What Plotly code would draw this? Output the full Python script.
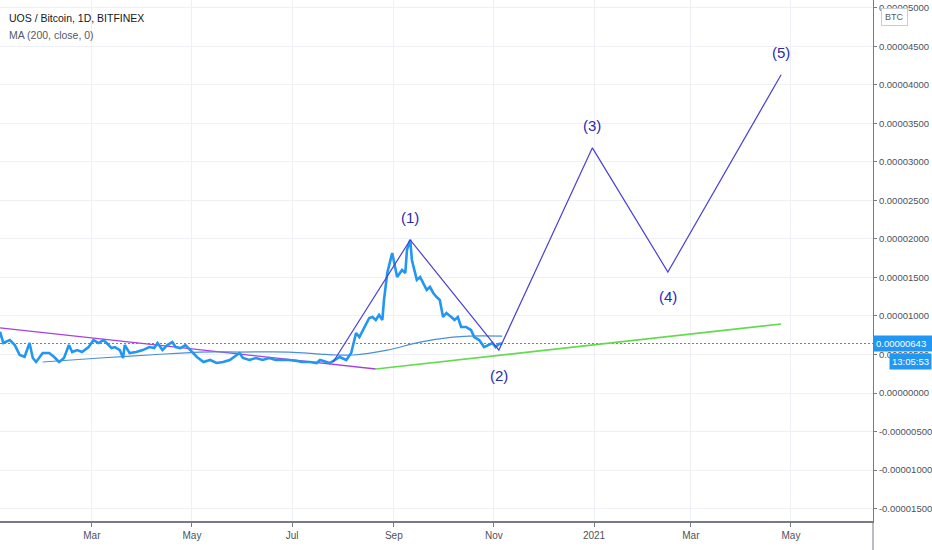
import plotly.graph_objects as go

# ---------------- data (prices in satoshi = 1e-8 BTC) ----------------
PRICE_DATES = [
    "2020-01-05", "2020-01-07", "2020-01-11", "2020-01-14", "2020-01-17", "2020-01-20",
    "2020-01-23", "2020-01-25", "2020-01-27", "2020-01-31", "2020-02-04", "2020-02-07",
    "2020-02-10", "2020-02-13", "2020-02-16", "2020-02-18", "2020-02-21", "2020-02-24",
    "2020-02-28", "2020-03-02", "2020-03-05", "2020-03-08", "2020-03-10", "2020-03-13",
    "2020-03-15", "2020-03-18", "2020-03-20", "2020-03-21", "2020-03-24", "2020-03-28",
    "2020-04-01", "2020-04-05", "2020-04-08", "2020-04-10", "2020-04-13", "2020-04-16",
    "2020-04-19", "2020-04-21", "2020-04-24", "2020-04-27", "2020-04-30", "2020-05-04",
    "2020-05-08", "2020-05-12", "2020-05-16", "2020-05-20", "2020-05-24", "2020-05-28",
    "2020-05-30", "2020-06-01", "2020-06-05", "2020-06-09", "2020-06-13", "2020-06-17",
    "2020-06-21", "2020-06-25", "2020-06-29", "2020-07-04", "2020-07-07", "2020-07-12",
    "2020-07-16", "2020-07-18", "2020-07-24", "2020-07-30", "2020-08-03", "2020-08-06",
    "2020-08-08", "2020-08-09", "2020-08-11", "2020-08-14", "2020-08-17", "2020-08-19",
    "2020-08-21", "2020-08-23", "2020-08-25", "2020-08-26", "2020-08-28", "2020-08-31",
    "2020-09-02", "2020-09-03", "2020-09-06", "2020-09-08", "2020-09-09", "2020-09-11",
    "2020-09-12", "2020-09-15", "2020-09-17", "2020-09-19", "2020-09-21", "2020-09-23",
    "2020-09-25", "2020-09-27", "2020-09-29", "2020-10-01", "2020-10-03", "2020-10-06",
    "2020-10-08", "2020-10-10", "2020-10-12", "2020-10-15", "2020-10-18", "2020-10-20",
    "2020-10-23", "2020-10-26", "2020-10-29", "2020-10-31", "2020-11-02", "2020-11-04",
    "2020-11-06",
]
PRICE_SAT = [
    796, 649, 688, 623, 494, 471,
    649, 455, 403, 519, 519, 468,
    403, 455, 623, 532, 558, 532,
    597, 688, 649, 688, 649, 584,
    597, 558, 455, 623, 519, 532,
    558, 597, 584, 649, 558, 623,
    662, 597, 584, 623, 558, 468,
    403, 429, 390, 403, 429, 494,
    519, 455, 429, 455, 429, 455,
    429, 429, 429, 416, 403, 403,
    390, 429, 390, 468, 429, 519,
    688, 779, 727, 857, 974, 987,
    948, 1013, 948, 1208, 1558, 1818,
    1597, 1506, 1597, 1558, 1857, 1987,
    1727, 1468, 1506, 1429, 1338, 1377,
    1299, 1247, 1208, 987, 1039, 987,
    948, 987, 857, 857, 818, 727,
    688, 597, 623, 649, 597, 636,
    643,
]

MA_DATES = ["2020-01-31", "2020-03-06", "2020-04-05", "2020-05-06", "2020-05-30",
            "2020-06-29", "2020-07-18", "2020-07-28", "2020-08-07", "2020-08-28",
            "2020-09-17", "2020-10-07", "2020-10-17", "2020-11-06"]
MA_SAT = [403, 455, 494, 532, 532, 532, 506, 494, 494, 558, 662, 727, 740, 740]

WAVE_DATES = ["2020-07-26", "2020-09-11", "2020-11-04", "2020-12-31", "2021-02-15", "2021-04-25"]
WAVE_SAT = [403, 1987, 558, 3182, 1571, 4130]
WAVE_LABELS = ["", "(1)", "(2)", "(3)", "(4)", "(5)"]
WAVE_LABEL_UP = [True, True, False, True, False, True]

RESIST_DATES = ["2020-01-05", "2020-08-21"]
RESIST_SAT = [845, 312]
SUPPORT_DATES = ["2020-08-21", "2021-04-25"]
SUPPORT_SAT = [312, 896]

LAST_PRICE_SAT = 643
LAST_TIME = "13:05:53"
Y_TICKS_SAT = [-1500, -1000, -500, 0, 500, 1000, 1500, 2000, 2500, 3000, 3500, 4000, 4500, 5000]
X_TICK_DATES = ["2020-03-01", "2020-05-01", "2020-07-01", "2020-09-01", "2020-11-01",
                "2021-01-01", "2021-03-01", "2021-05-01"]
X_TICK_TEXT = ["Mar", "May", "Jul", "Sep", "Nov", "2021", "Mar", "May"]
X_RANGE = ["2020-01-05", "2021-06-20"]

SAT = 1e-8


def btc(vals):
    return [v * SAT for v in vals]


def fmt(v):
    s = f"{abs(v) * SAT:.8f}"
    return ("-" + s) if v < 0 else s


FONT = "Liberation Sans, Arial, sans-serif"
WAVE_LINE = "#4a3fd6"
WAVE_TEXT = "#2a2ab0"
PRICE_BLUE = "#2196F3"
AXIS_GREY = "#787b86"
TEXT_GREY = "#4c525e"

fig = go.Figure()

fig.add_trace(go.Scatter(x=X_RANGE, y=[LAST_PRICE_SAT * SAT] * 2, mode="lines",
                         line=dict(color=PRICE_BLUE, width=1.2, dash="2px,2px"), hoverinfo="skip"))
fig.add_trace(go.Scatter(x=RESIST_DATES, y=btc(RESIST_SAT), mode="lines",
                         line=dict(color="#a641e0", width=1.3), hoverinfo="skip"))
fig.add_trace(go.Scatter(x=SUPPORT_DATES, y=btc(SUPPORT_SAT), mode="lines",
                         line=dict(color="#62dc4c", width=1.6), hoverinfo="skip"))
fig.add_trace(go.Scatter(x=MA_DATES, y=btc(MA_SAT), mode="lines",
                         line=dict(color="#4a8fd8", width=1.2, shape="spline"), hoverinfo="skip"))
fig.add_trace(go.Scatter(x=PRICE_DATES, y=btc(PRICE_SAT), mode="lines",
                         line=dict(color=PRICE_BLUE, width=2.6), hoverinfo="skip"))
fig.add_trace(go.Scatter(x=WAVE_DATES, y=btc(WAVE_SAT), mode="lines",
                         line=dict(color=WAVE_LINE, width=1.2), hoverinfo="skip"))

# right axis line continuing below the x axis
fig.add_shape(type="line", xref="paper", yref="paper", x0=1, x1=1, y0=-0.06, y1=0,
              line=dict(color=AXIS_GREY, width=1))

annots = []
for d, v, lab, up in zip(WAVE_DATES, WAVE_SAT, WAVE_LABELS, WAVE_LABEL_UP):
    if not lab:
        continue
    annots.append(dict(text=lab, x=d, y=v * SAT, xref="x", yref="y", showarrow=False,
                       xanchor="center", yanchor="middle", yshift=22 if up else -25,
                       font=dict(family=FONT, size=15, color=WAVE_TEXT)))

annots += [
    dict(text="UOS / Bitcoin, 1D, BITFINEX", x=0.008, y=0.966, xref="paper", yref="paper",
         xanchor="left", yanchor="middle", showarrow=False,
         font=dict(family=FONT, size=10.5, color="#131722")),
    dict(text="MA (200, close, 0)", x=0.008, y=0.933, xref="paper", yref="paper",
         xanchor="left", yanchor="middle", showarrow=False,
         font=dict(family=FONT, size=10.5, color="#555a66")),
    dict(text=fmt(LAST_PRICE_SAT), x=1.0, y=LAST_PRICE_SAT * SAT, xref="paper", yref="y",
         xanchor="left", yanchor="middle", showarrow=False, bgcolor=PRICE_BLUE,
         borderpad=2, width=55, align="left", font=dict(family=FONT, size=9.5, color="white")),
    dict(text=LAST_TIME, x=1.0676, y=LAST_PRICE_SAT * SAT, xref="paper", yref="y",
         xanchor="right", yanchor="top", yshift=-9, showarrow=False, bgcolor=PRICE_BLUE,
         borderpad=2, font=dict(family=FONT, size=9.5, color="white")),
    dict(text="BTC", x=1.025, y=0.967, xref="paper", yref="paper",
         xanchor="center", yanchor="middle", showarrow=False, bgcolor="white",
         bordercolor="#c9ccd4", borderwidth=1, borderpad=3,
         font=dict(family=FONT, size=9, color="#555a66")),
]

fig.update_layout(
    width=932, height=550,
    margin=dict(l=0, r=59, t=0, b=29),
    plot_bgcolor="white", paper_bgcolor="white",
    showlegend=False,
    annotations=annots,
    xaxis=dict(range=X_RANGE, tickvals=X_TICK_DATES, ticktext=X_TICK_TEXT,
               showgrid=True, gridcolor="#eef0f5", gridwidth=1,
               ticks="outside", ticklen=4, tickcolor=AXIS_GREY,
               showline=True, linecolor=AXIS_GREY, linewidth=1.5, zeroline=False,
               tickfont=dict(family=FONT, size=10, color=TEXT_GREY)),
    yaxis=dict(range=[-1.66e-5, 5.10e-5], side="right",
               tickvals=btc(Y_TICKS_SAT), ticktext=[fmt(v) for v in Y_TICKS_SAT],
               showgrid=True, gridcolor="#eef0f5", gridwidth=1,
               ticks="outside", ticklen=3, tickcolor=AXIS_GREY,
               showline=True, linecolor=AXIS_GREY, linewidth=1, zeroline=False,
               tickfont=dict(family=FONT, size=9.5, color=TEXT_GREY)),
)

fig.write_html("out.html", config={"displayModeBar": False},
               post_script="document.body.style.margin='0px';")
